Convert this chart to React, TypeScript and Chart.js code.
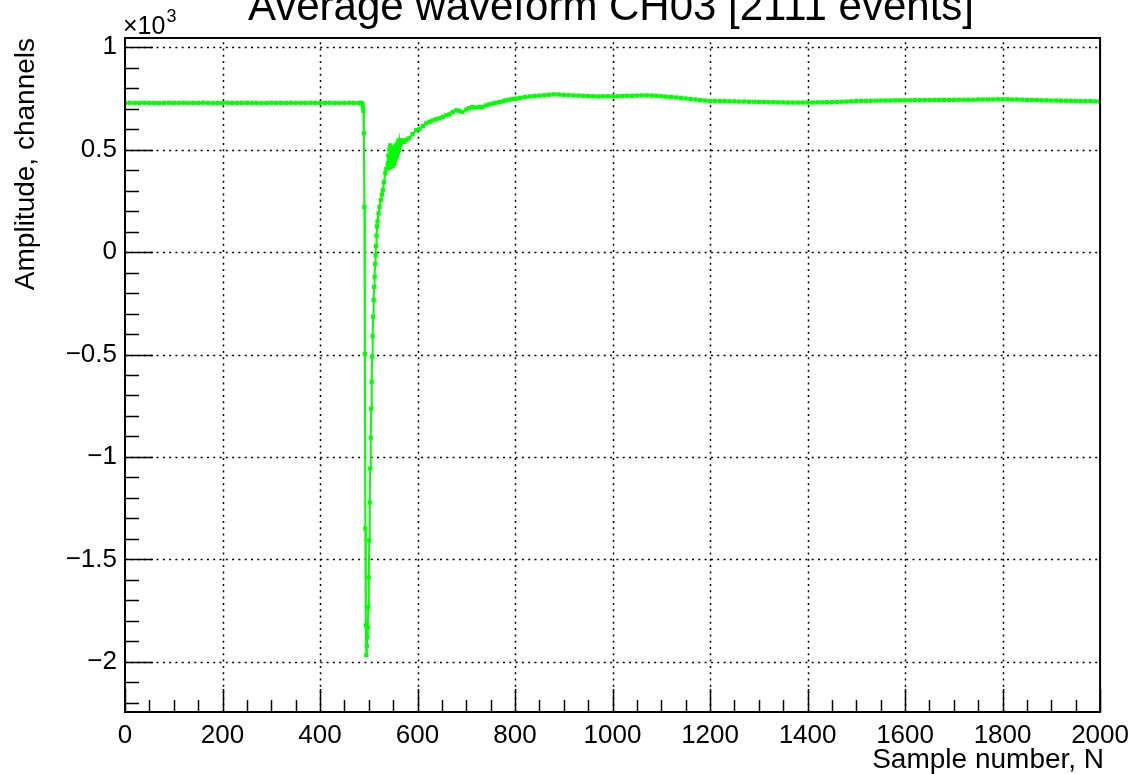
import React, { useEffect, useRef } from "react";
import { Chart, registerables } from "chart.js";

Chart.register(...registerables);

// ---- data ----
const sampleN = [
  0, 10, 20, 30, 40, 50, 60, 70, 80, 90, 100, 110, 120, 130, 140, 150, 160, 170, 180, 190,
  200, 210, 220, 230, 240, 250, 260, 270, 280, 290, 300, 310, 320, 330, 340, 350, 360, 370, 380, 390,
  400, 410, 420, 430, 440, 450, 460, 470, 480, 484, 486, 487, 488, 489, 490, 491, 492, 493, 494, 495,
  496, 497, 498, 499, 500, 501, 502, 503, 504, 505, 506, 507, 508, 509, 510, 511, 512, 513, 514, 515,
  516, 517, 518, 520, 522, 525, 527, 529, 531, 534, 536, 539, 540, 541, 542, 543, 544, 545, 546, 547,
  548, 549, 550, 551, 552, 553, 554, 555, 556, 557, 558, 559, 560, 561, 562, 563, 564, 566, 568, 570,
  573, 577, 583, 590, 597, 604, 611, 618, 625, 631, 638, 645, 652, 659, 666, 672, 679, 686, 692, 700,
  706, 712, 720, 727, 733, 740, 747, 754, 761, 768, 775, 781, 788, 795, 802, 810, 820, 830, 840, 850,
  860, 870, 880, 890, 900, 910, 920, 930, 940, 950, 960, 970, 980, 990, 1000, 1010, 1020, 1030, 1040, 1050,
  1060, 1070, 1080, 1090, 1100, 1110, 1120, 1130, 1140, 1150, 1160, 1170, 1180, 1190, 1200, 1210, 1220, 1230, 1240, 1250,
  1260, 1270, 1280, 1290, 1300, 1310, 1320, 1330, 1340, 1350, 1360, 1370, 1380, 1390, 1400, 1410, 1420, 1430, 1440, 1450,
  1460, 1470, 1480, 1490, 1500, 1510, 1520, 1530, 1540, 1550, 1560, 1570, 1580, 1590, 1600, 1610, 1620, 1630, 1640, 1650,
  1660, 1670, 1680, 1690, 1700, 1710, 1720, 1730, 1740, 1750, 1760, 1770, 1780, 1790, 1800, 1810, 1820, 1830, 1840, 1850,
  1860, 1870, 1880, 1890, 1900, 1910, 1920, 1930, 1940, 1950, 1960, 1970, 1980, 1990, 2000,
];

const amplitude = [
  727, 728, 727, 727, 728, 727, 727, 726, 727, 728, 727, 727, 728, 727, 727, 727, 728, 727, 726, 727,
  727, 728, 727, 727, 727, 728, 727, 727, 726, 727, 728, 727, 727, 727, 728, 727, 727, 727, 728, 727,
  727, 727, 728, 727, 727, 727, 728, 727, 727, 727, 726, 722, 705, 688, 579, 220, -497, -1349, -1821, -1967,
  -1921, -1880, -1831, -1733, -1587, -1407, -1222, -1056, -906, -764, -633, -511, -409, -316, -234, -170, -121, -58, -15, 30,
  80, 125, 150, 188, 220, 253, 280, 302, 340, 385, 405, 433, 470, 410, 500, 430, 520, 415, 480, 440,
  510, 420, 470, 500, 430, 490, 445, 520, 460, 495, 470, 530, 485, 545, 500, 540, 520, 530, 545, 540,
  537, 548, 555, 575, 594, 600, 615, 628, 635, 642, 648, 652, 660, 667, 672, 683, 691, 688, 683, 695,
  702, 707, 705, 708, 707, 715, 720, 724, 728, 731, 735, 740, 743, 746, 748, 752, 756, 759, 761, 763,
  765, 767, 769, 768, 766, 765, 764, 763, 762, 761, 760, 759, 760, 760, 759, 760, 761, 762, 762, 763,
  764, 764, 763, 762, 760, 758, 756, 754, 752, 749, 746, 744, 741, 739, 737, 737, 736, 736, 735, 735,
  734, 734, 733, 733, 732, 732, 731, 731, 730, 730, 729, 729, 729, 729, 729, 729, 730, 730, 731, 731,
  732, 733, 734, 735, 736, 737, 737, 738, 738, 739, 739, 739, 740, 740, 740, 740, 741, 741, 741, 741,
  742, 742, 742, 742, 742, 743, 743, 743, 743, 744, 744, 744, 744, 745, 745, 745, 744, 744, 743, 742,
  742, 741, 740, 740, 739, 739, 738, 738, 737, 737, 736, 736, 736, 735, 735,
];

const xMajorTicks = [0, 200, 400, 600, 800, 1000, 1200, 1400, 1600, 1800, 2000];
const xTickLabels = ["0", "200", "400", "600", "800", "1000", "1200", "1400", "1600", "1800", "2000"];
const yMajorTicks = [-2000, -1500, -1000, -500, 0, 500, 1000];
const yTickLabels = ["\u22122", "\u22121.5", "\u22121", "\u22120.5", "0", "0.5", "1"];

const chartTitle = "Average waveform CH03 [2111 events]";
const xTitle = "Sample number, N";
const yTitle = "Amplitude, channels";

const X_MIN = 0;
const X_MAX = 2000;
const Y_MIN = -2244;
const Y_MAX = 1044;
const X_MINOR = 50;
const Y_MINOR = 100;

const FONT = "'Liberation Sans', Arial, Helvetica, sans-serif";

const rootStylePlugin = {
  id: "rootStyle",
  beforeDatasetsDraw(chart: any) {
    const { ctx, chartArea: a, scales } = chart;
    const x = scales.x;
    const y = scales.y;
    ctx.save();
    ctx.strokeStyle = "#000";
    ctx.lineWidth = 1.5;
    ctx.setLineDash([2, 4.3]);
    for (const v of xMajorTicks) {
      const px = Math.round(x.getPixelForValue(v)) + 0.5;
      if (px <= a.left + 2 || px >= a.right - 2) continue;
      ctx.beginPath();
      ctx.moveTo(px, a.bottom);
      ctx.lineTo(px, a.top);
      ctx.stroke();
    }
    for (const v of yMajorTicks) {
      const py = Math.round(y.getPixelForValue(v)) + 0.5;
      if (py <= a.top + 2 || py >= a.bottom - 2) continue;
      ctx.beginPath();
      ctx.moveTo(a.left, py);
      ctx.lineTo(a.right, py);
      ctx.stroke();
    }
    ctx.restore();
  },
  afterDraw(chart: any) {
    const { ctx, chartArea: a, scales } = chart;
    const x = scales.x;
    const y = scales.y;
    ctx.save();
    ctx.setLineDash([]);
    ctx.strokeStyle = "#000";
    // tick marks (inside)
    ctx.lineWidth = 1.5;
    for (let v = X_MIN; v <= X_MAX; v += X_MINOR) {
      const major = v % 200 === 0;
      const px = Math.round(x.getPixelForValue(v)) + 0.5;
      ctx.beginPath();
      ctx.moveTo(px, a.bottom);
      ctx.lineTo(px, a.bottom - (major ? 23 : 12));
      ctx.stroke();
    }
    for (let v = -2200; v <= Y_MAX; v += Y_MINOR) {
      const major = v % 500 === 0;
      const py = Math.round(y.getPixelForValue(v)) + 0.5;
      ctx.beginPath();
      ctx.moveTo(a.left, py);
      ctx.lineTo(a.left + (major ? 28 : 14), py);
      ctx.stroke();
    }
    // frame
    ctx.lineWidth = 2;
    ctx.strokeRect(a.left, a.top, a.right - a.left, a.bottom - a.top);

    // titles
    ctx.fillStyle = "#000";
    ctx.font = `42px ${FONT}`;
    ctx.textAlign = "center";
    ctx.textBaseline = "alphabetic";
    ctx.fillText(chartTitle, 611, 20);

    ctx.font = `28px ${FONT}`;
    ctx.textAlign = "right";
    ctx.fillText(xTitle, a.right + 4, 768);

    ctx.save();
    ctx.translate(34, a.top);
    ctx.rotate(-Math.PI / 2);
    ctx.textAlign = "right";
    ctx.fillText(yTitle, 0, 0);
    ctx.restore();

    // x10^3 multiplier
    ctx.textAlign = "left";
    ctx.font = `25px ${FONT}`;
    ctx.fillText("\u00d710", a.left - 2, 34);
    const w = ctx.measureText("\u00d710").width;
    ctx.font = `18px ${FONT}`;
    ctx.fillText("3", a.left - 2 + w + 1, 22);
    ctx.restore();
  },
};

export default function App() {
  const canvasRef = useRef<HTMLCanvasElement | null>(null);

  useEffect(() => {
    const canvas = canvasRef.current;
    if (!canvas) return;
    const points = sampleN.map((n, i) => ({ x: n, y: amplitude[i] }));
    const chart = new Chart(canvas, {
      type: "scatter",
      data: {
        datasets: [
          {
            data: points,
            showLine: true,
            borderColor: "#00ff00",
            backgroundColor: "#00ff00",
            borderWidth: 2,
            pointStyle: "rect",
            pointRadius: 3,
            pointBorderWidth: 0,
            pointBackgroundColor: "#00ff00",
            tension: 0,
          },
        ],
      },
      options: {
        animation: false,
        responsive: false,
        devicePixelRatio: 1,
        events: [],
        layout: { padding: { left: 0, top: 38, right: 36, bottom: 0 } },
        plugins: {
          legend: { display: false },
          tooltip: { enabled: false },
          title: { display: false },
        },
        scales: {
          x: {
            type: "linear",
            min: X_MIN,
            max: X_MAX,
            grid: { display: false, drawTicks: false },
            border: { display: false },
            afterBuildTicks: (s: any) => {
              s.ticks = xMajorTicks.map((v) => ({ value: v }));
            },
            afterFit: (s: any) => {
              s.height = 62;
            },
            ticks: {
              autoSkip: false,
              maxRotation: 0,
              minRotation: 0,
              padding: 8,
              color: "#000",
              font: { family: FONT, size: 26 },
              callback: (v: any) => {
                const i = xMajorTicks.indexOf(Number(v));
                return i >= 0 ? xTickLabels[i] : "";
              },
            },
          },
          y: {
            type: "linear",
            min: Y_MIN,
            max: Y_MAX,
            grid: { display: false, drawTicks: false },
            border: { display: false },
            afterBuildTicks: (s: any) => {
              s.ticks = yMajorTicks.map((v) => ({ value: v }));
            },
            afterFit: (s: any) => {
              s.width = 125;
            },
            ticks: {
              autoSkip: false,
              padding: 8,
              color: "#000",
              font: { family: FONT, size: 26 },
              callback: (v: any) => {
                const i = yMajorTicks.indexOf(Number(v));
                return i >= 0 ? yTickLabels[i] : "";
              },
            },
          },
        },
      },
      plugins: [rootStylePlugin],
    });
    return () => chart.destroy();
  }, []);

  return (
    <div style={{ position: "fixed", left: 0, top: 0, width: 1137, height: 774, background: "#fff" }}>
      <canvas ref={canvasRef} width={1137} height={774} style={{ width: 1137, height: 774 }} />
    </div>
  );
}
